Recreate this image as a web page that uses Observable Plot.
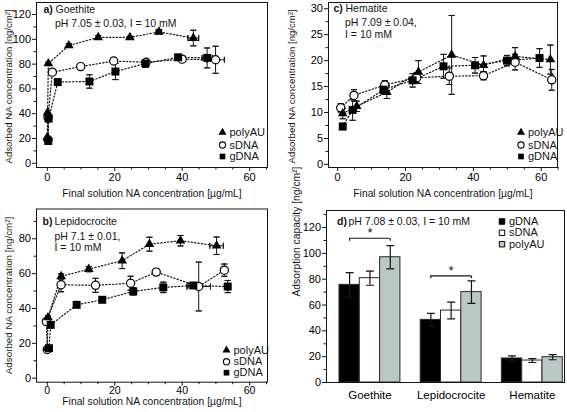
<!DOCTYPE html>
<html><head><meta charset="utf-8">
<script src="https://cdn.jsdelivr.net/npm/d3@7"></script>
<script src="https://cdn.jsdelivr.net/npm/@observablehq/plot@0.6"></script>
<style>
body{margin:0;background:#fff}
#fig{position:relative;width:567px;height:412px;overflow:hidden;background:#fff}
#fig svg{position:absolute}
</style></head><body><div id="fig"></div>
<script>
// ---------------- DATA ----------------
const seriesOrder = ["sDNA", "gDNA", "polyAU"]; // drawing order
const legendOrder = ["polyAU", "sDNA", "gDNA"];
const xMajorTicks = [0, 20, 40, 60];
const xMinorTicks = [5, 10, 15, 25, 30, 35, 45, 50, 55, 65];

// a) Goethite
const goePolyAUX = [0, 0.1, 0.3, 6.4, 15.1, 24.5, 33.1, 43.3];
const goePolyAUY = [21, 41, 80.5, 95, 101.5, 101.5, 106, 101];
const goePolyAUEy = [0, 0, 1, 1.5, 1.5, 1, 1.5, 6.3];
const goePolyAUEx = [0, 0, 0, 0, 0, 0, 0.8, 1.6];
const goeSDNAX = [0.2, 0.2, 1.5, 9.9, 19.7, 29.3, 40, 49.9];
const goeSDNAY = [19, 37, 73.5, 78, 82.5, 81.5, 84, 83.5];
const goeSDNAEy = [0, 0, 1, 1, 1, 1.5, 2, 10.9];
const goeSDNAEx = [0, 0, 0, 0, 0, 0, 0, 2.6];
const goeGDNAX = [0.3, 0.4, 3.1, 12.5, 20.2, 29.1, 38.8, 47.4];
const goeGDNAY = [18, 36, 65.5, 66, 74, 80.5, 85.5, 85];
const goeGDNAEy = [0, 0, 1, 5.4, 6.5, 3, 2, 8];
const goeGDNAEx = [0, 0, 0, 0, 0, 0, 0, 1.5];

// b) Lepidocrocite
const lepPolyAUX = [0, 0.2, 4.1, 12.3, 22.2, 30.3, 39.5, 50.2];
const lepPolyAUY = [17.2, 34.8, 58.4, 62.6, 67.4, 76.9, 78.9, 76];
const lepPolyAUEy = [0, 1, 1.5, 1.5, 4.5, 4, 3, 5];
const lepPolyAUEx = [0, 0, 0, 0, 0, 0, 0, 2];
const lepSDNAX = [0, -0.3, 4.1, 14.3, 24.7, 32.3, 44.9, 52.5];
const lepSDNAY = [16.5, 32.5, 53.6, 53.3, 54.5, 60.9, 52.6, 62];
const lepSDNAEy = [0, 0, 4, 4, 4, 2, 14, 3.5];
const lepSDNAEx = [0, 0, 0, 0, 0, 0, 3.5, 0];
const lepGDNAX = [0.5, 1, 8.7, 16.3, 25.5, 34.4, 43.3, 53.5];
const lepGDNAY = [17.2, 30.6, 42.1, 45, 49.8, 52.1, 53.2, 52.6];
const lepGDNAEy = [0, 0, 1, 1, 2, 3, 1.5, 3.5];
const lepGDNAEx = [0, 0, 0, 0, 0, 0, 1.5, 0];

// c) Hematite
const hemPolyAUX = [1.5, 5.6, 14.5, 23.8, 33.6, 43, 52.3, 62.7];
const hemPolyAUY = [9.8, 11.2, 13.9, 17.8, 21.1, 19.1, 20.8, 20.2];
const hemPolyAUEy = [1, 1, 1.2, 2.2, 7.6, 1.8, 1.7, 2.8];
const hemSDNAX = [0.9, 4.8, 13.9, 23.3, 32.9, 43, 52.3, 63.1];
const hemSDNAY = [10.9, 13.3, 15.3, 16.7, 17, 17.1, 19.7, 16.3];
const hemSDNAEy = [0.8, 1.1, 0.8, 1, 1.6, 0.8, 1.5, 2];
const hemGDNAX = [1.5, 4.4, 13.5, 22.1, 31.2, 40.5, 49.9, 59.5];
const hemGDNAY = [7.3, 10.5, 14.4, 16.2, 18.9, 19.1, 20, 20.5];
const hemGDNAEy = [0.6, 2, 0.8, 1.3, 2.3, 1.5, 1, 1.8];
const zeros8 = [0, 0, 0, 0, 0, 0, 0, 0];

// d) Adsorption capacity
const minerals = ["Goethite", "Lepidocrocite", "Hematite"];
const barSeries = ["gDNA", "sDNA", "polyAU"];
const capGDNA = [75.6, 48.5, 18.6], capGDNAErr = [9.5, 5, 2];
const capSDNA = [80.8, 55.7, 17], capSDNAErr = [5.5, 6.5, 1.5];
const capPolyAU = [97, 70, 19.6], capPolyAUErr = [9, 8.7, 2];
const sigMinerals = ["Goethite", "Lepidocrocite"];
const sigLevels = [111.7, 82.6];

// ---------------- HELPERS ----------------
const FONT = "Liberation Sans, Arial, Helvetica, sans-serif";
const INK = "#151515";
function rows(series, xs, ys, eys, exs) {
  return xs.map((x, i) => ({series, x, y: ys[i], ey: eys[i], ex: exs[i]}));
}
const capH = {draw(ctx, size) { const r = Math.sqrt(size / Math.PI); ctx.moveTo(-r, 0); ctx.lineTo(r, 0); ctx.closePath(); }};
const capV = {draw(ctx, size) { const r = Math.sqrt(size / Math.PI); ctx.moveTo(0, -r); ctx.lineTo(0, r); ctx.closePath(); }};
const tickDown = {draw(ctx, size) { const r = Math.sqrt(size / Math.PI); ctx.moveTo(0, 0); ctx.lineTo(0, r); ctx.closePath(); }};
const markerStyle = {
  polyAU: {symbol: "triangle", r: 3.6, fill: "#000", stroke: "none"},
  sDNA: {symbol: "circle", r: 4.1, fill: "#fff", stroke: "#000", strokeWidth: 1.2},
  gDNA: {symbol: "square", r: 4.5, fill: "#000", stroke: "none"}
};
const legendMarker = {
  polyAU: {symbol: "triangle", r: 3.0, fill: "#000", stroke: "none"},
  sDNA: {symbol: "circle", r: 3.1, fill: "#fff", stroke: "#000", strokeWidth: 1.1},
  gDNA: {symbol: "square", r: 3.2, fill: "#000", stroke: "none"}
};

function scatter(cfg) {
  const all = cfg.data;
  const withEy = all.filter(d => d.ey > 0);
  const withEx = all.filter(d => d.ex > 0);
  const marks = [
    Plot.axisY({ticks: cfg.yMinor, tickSize: 2.5, tickFormat: () => "", label: null, stroke: INK}),
    Plot.axisY({ticks: cfg.yTicks, tickSize: 4, tickPadding: 1.5, fontSize: 11, label: null, stroke: INK}),
    Plot.axisX({ticks: xMinorTicks, tickSize: 2.5, tickFormat: () => "", label: null, stroke: INK}),
    Plot.axisX({ticks: xMajorTicks, tickSize: 4, tickPadding: cfg.xPad, fontSize: cfg.xFont, label: null, stroke: INK}),
    Plot.line(all, {x: "x", y: "y", z: "series", stroke: INK, strokeWidth: 1.2, strokeDasharray: "1.3,2.1"}),
    Plot.ruleX(withEy, {x: "x", y1: d => d.y - d.ey, y2: d => d.y + d.ey, stroke: INK, strokeWidth: 1}),
    Plot.dot(withEy, {x: "x", y: d => d.y + d.ey, symbol: capH, r: 3, stroke: INK, strokeWidth: 1}),
    Plot.dot(withEy, {x: "x", y: d => d.y - d.ey, symbol: capH, r: 3, stroke: INK, strokeWidth: 1}),
    Plot.ruleY(withEx, {y: "y", x1: d => d.x - d.ex, x2: d => d.x + d.ex, stroke: INK, strokeWidth: 1}),
    Plot.dot(withEx, {x: d => d.x - d.ex, y: "y", symbol: capV, r: 3, stroke: INK, strokeWidth: 1}),
    Plot.dot(withEx, {x: d => d.x + d.ex, y: "y", symbol: capV, r: 3, stroke: INK, strokeWidth: 1})
  ];
  for (const s of seriesOrder) {
    marks.push(Plot.dot(all.filter(d => d.series === s), {x: "x", y: "y", ...markerStyle[s]}));
  }
  // legend (bottom-right)
  legendOrder.forEach((s, i) => {
    const dy = cfg.legendDy[i];
    marks.push(Plot.dot([0], {frameAnchor: "bottom-right", dx: cfg.legendDx, dy, ...legendMarker[s]}));
    marks.push(Plot.text([s], {frameAnchor: "bottom-right", dx: cfg.legendDx + 7, dy, text: d => d, textAnchor: "start", lineAnchor: "middle", fontSize: 11, fill: INK}));
  });
  // panel texts
  for (const t of cfg.texts) {
    marks.push(Plot.text([t.s], {frameAnchor: "top-left", dx: t.dx, dy: t.dy, text: d => d, textAnchor: "start", lineAnchor: "middle", fontSize: 10.5, fontWeight: t.bold ? "bold" : "normal", fill: INK}));
  }
  // axis titles
  marks.push(Plot.text(["Final solution NA concentration [\u00b5g/mL]"], {frameAnchor: "bottom", dy: cfg.xTitleDy, text: d => d, lineAnchor: "middle", fontSize: 10.3, fill: INK}));
  marks.push(Plot.text(["Adsorbed NA concentration [ng/cm\u00b2]"], {frameAnchor: "bottom-left", dx: cfg.yTitleDx, dy: cfg.yTitleDy, text: d => d, rotate: -90, textAnchor: "start", lineAnchor: "middle", fontSize: cfg.yTitleFont, fill: INK}));
  marks.push(Plot.frame({stroke: INK, strokeWidth: 1}));
  const svg = Plot.plot({
    width: cfg.width, height: 206,
    marginLeft: cfg.ml, marginRight: cfg.mr, marginTop: cfg.mt, marginBottom: cfg.mb,
    x: {domain: cfg.xDomain},
    y: {domain: cfg.yDomain},
    style: {fontFamily: FONT, background: "transparent", overflow: "visible"},
    marks
  });
  svg.style.left = cfg.left + "px";
  svg.style.top = cfg.top + "px";
  return svg;
}

const fig = document.getElementById("fig");

// Panel a
fig.appendChild(scatter({
  left: 0, top: 0, width: 283, ml: 36, mr: 16, mt: 2, mb: 39,
  xDomain: [-3.2, 65.3], yDomain: [-3.4, 129.7],
  yTicks: [0, 20, 40, 60, 80, 100, 120], yMinor: [10, 30, 50, 70, 90, 110],
  xPad: 2, xFont: 11, xTitleDy: 26, yTitleDx: -28, yTitleDy: -4, yTitleFont: 9.6,
  data: [
    ...rows("polyAU", goePolyAUX, goePolyAUY, goePolyAUEy, goePolyAUEx),
    ...rows("sDNA", goeSDNAX, goeSDNAY, goeSDNAEy, goeSDNAEx),
    ...rows("gDNA", goeGDNAX, goeGDNAY, goeGDNAEy, goeGDNAEx)
  ],
  legendDx: -45, legendDy: [-35, -22.5, -11],
  texts: [
    {s: "a)", dx: 7, dy: 7.5, bold: true},
    {s: "Goethite", dx: 19, dy: 7.5},
    {s: "pH 7.05 \u00b1 0.03, I = 10 mM", dx: 18.5, dy: 21}
  ]
}));

// Panel c
fig.appendChild(scatter({
  left: 283, top: 0, width: 284, ml: 45, mr: 10, mt: 2, mb: 39,
  xDomain: [-2.7, 64.8], yDomain: [-0.6, 31.2],
  yTicks: [0, 5, 10, 15, 20, 25, 30], yMinor: [2.5, 7.5, 12.5, 17.5, 22.5, 27.5],
  xPad: 2, xFont: 11, xTitleDy: 26, yTitleDx: -36.5, yTitleDy: -4, yTitleFont: 9.6,
  data: [
    ...rows("polyAU", hemPolyAUX, hemPolyAUY, hemPolyAUEy, zeros8),
    ...rows("sDNA", hemSDNAX, hemSDNAY, hemSDNAEy, zeros8),
    ...rows("gDNA", hemGDNAX, hemGDNAY, hemGDNAEy, zeros8)
  ],
  legendDx: -36.5, legendDy: [-35, -22.5, -11],
  texts: [
    {s: "c)", dx: 5, dy: 6.5, bold: true},
    {s: "Hematite", dx: 17, dy: 6.5},
    {s: "pH 7.09 \u00b1 0.04,", dx: 16.5, dy: 20.5},
    {s: "I = 10 mM", dx: 16.5, dy: 32.5}
  ]
}));

// Panel b
fig.appendChild(scatter({
  left: 0, top: 206, width: 283, ml: 36, mr: 16, mt: 2.5, mb: 30.3,
  xDomain: [-3.2, 65.3], yDomain: [-2.3, 97.1],
  yTicks: [0, 20, 40, 60, 80], yMinor: [10, 30, 50, 70, 90],
  xPad: 0, xFont: 10.5, xTitleDy: 19.8, yTitleDx: -28, yTitleDy: -8, yTitleFont: 9.8,
  data: [
    ...rows("polyAU", lepPolyAUX, lepPolyAUY, lepPolyAUEy, lepPolyAUEx),
    ...rows("sDNA", lepSDNAX, lepSDNAY, lepSDNAEy, lepSDNAEx),
    ...rows("gDNA", lepGDNAX, lepGDNAY, lepGDNAEy, lepGDNAEx)
  ],
  legendDx: -41, legendDy: [-32, -20.5, -9.5],
  texts: [
    {s: "b)", dx: 6, dy: 12.5, bold: true},
    {s: "Lepidocrocite", dx: 18, dy: 12.5},
    {s: "pH 7.1 \u00b1 0.01,", dx: 18, dy: 27.5},
    {s: "I = 10 mM", dx: 18, dy: 39}
  ]
}));

// Panel d (bars)
const barData = [];
const barVals = {gDNA: [capGDNA, capGDNAErr], sDNA: [capSDNA, capSDNAErr], polyAU: [capPolyAU, capPolyAUErr]};
barSeries.forEach((s, j) => minerals.forEach((m, i) => {
  barData.push({mineral: m, series: s, pos: i * 4 + j, value: barVals[s][0][i], err: barVals[s][1][i]});
}));
const barFill = {gDNA: "#000000", sDNA: "#ffffff", polyAU: "#b9c7c7"};
const sig = sigMinerals.map((m, k) => ({i: minerals.indexOf(m), y: sigLevels[k]}));

const dMarks = [
  Plot.axisY({ticks: [10, 30, 50, 70, 90, 110, 130], tickSize: 2.5, tickFormat: () => "", label: null, stroke: INK}),
  Plot.axisY({ticks: [0, 20, 40, 60, 80, 100, 120], tickSize: 4, tickPadding: 1.5, fontSize: 11, label: null, stroke: INK}),
  Plot.axisX({ticks: [1, 5, 9], tickFormat: d => minerals[(d - 1) / 4], tickSize: 0, tickPadding: 8, fontSize: 11.5, label: null})
];
for (const s of barSeries) {
  dMarks.push(Plot.rectY(barData.filter(d => d.series === s), {x1: d => d.pos - 0.5, x2: d => d.pos + 0.5, y1: 0, y2: "value", fill: barFill[s], stroke: "#2a2a2a", strokeWidth: 1}));
}
dMarks.push(
  Plot.ruleX(barData, {x: "pos", y1: d => d.value - d.err, y2: d => d.value + d.err, stroke: INK, strokeWidth: 1.2}),
  Plot.dot(barData, {x: "pos", y: d => d.value + d.err, symbol: capH, r: 4, stroke: INK, strokeWidth: 1.2}),
  Plot.dot(barData, {x: "pos", y: d => d.value - d.err, symbol: capH, r: 4, stroke: INK, strokeWidth: 1.2}),
  Plot.ruleY(sig, {y: "y", x1: d => d.i * 4, x2: d => d.i * 4 + 2, stroke: INK, strokeWidth: 1.2}),
  Plot.dot(sig, {x: d => d.i * 4, y: "y", symbol: tickDown, r: 2.5, stroke: INK, strokeWidth: 1.2}),
  Plot.dot(sig, {x: d => d.i * 4 + 2, y: "y", symbol: tickDown, r: 2.5, stroke: INK, strokeWidth: 1.2}),
  Plot.text(sig, {x: d => d.i * 4 + 1, y: "y", text: () => "*", dy: -5, fontSize: 13, fill: INK}),
  Plot.text(["d)"], {frameAnchor: "top-left", dx: 10.5, dy: 11, text: d => d, textAnchor: "start", lineAnchor: "middle", fontSize: 10.5, fontWeight: "bold", fill: INK}),
  Plot.text(["pH 7.08 \u00b1 0.03, I = 10 mM"], {frameAnchor: "top-left", dx: 22, dy: 11, text: d => d, textAnchor: "start", lineAnchor: "middle", fontSize: 10.5, fill: INK}),
  Plot.text(["Adsorption capacity [ng/cm\u00b2]"], {frameAnchor: "left", dx: -29.5, text: d => d, rotate: -90, lineAnchor: "middle", fontSize: 10.3, fill: INK})
);
barSeries.forEach((s, i) => {
  const dy = [11, 22.3, 33.7][i];
  dMarks.push(Plot.dot([0], {frameAnchor: "top-right", dx: -62.5, dy, symbol: "square", r: 3.1, fill: barFill[s], stroke: "#000", strokeWidth: 1}));
  dMarks.push(Plot.text([s], {frameAnchor: "top-right", dx: -55.5, dy, text: d => d, textAnchor: "start", lineAnchor: "middle", fontSize: 11, fill: INK}));
});
dMarks.push(Plot.frame({stroke: INK, strokeWidth: 1}));

const dSvg = Plot.plot({
  width: 284, height: 206,
  marginLeft: 43, marginRight: 3, marginTop: 4, marginBottom: 30,
  x: {type: "linear", domain: [-0.5, 10.5], range: [56, 279.3]},
  y: {domain: [0, 133.2]},
  style: {fontFamily: FONT, background: "transparent", overflow: "visible"},
  marks: dMarks
});
dSvg.style.left = "283px";
dSvg.style.top = "206px";
fig.appendChild(dSvg);
</script>
</body></html>
